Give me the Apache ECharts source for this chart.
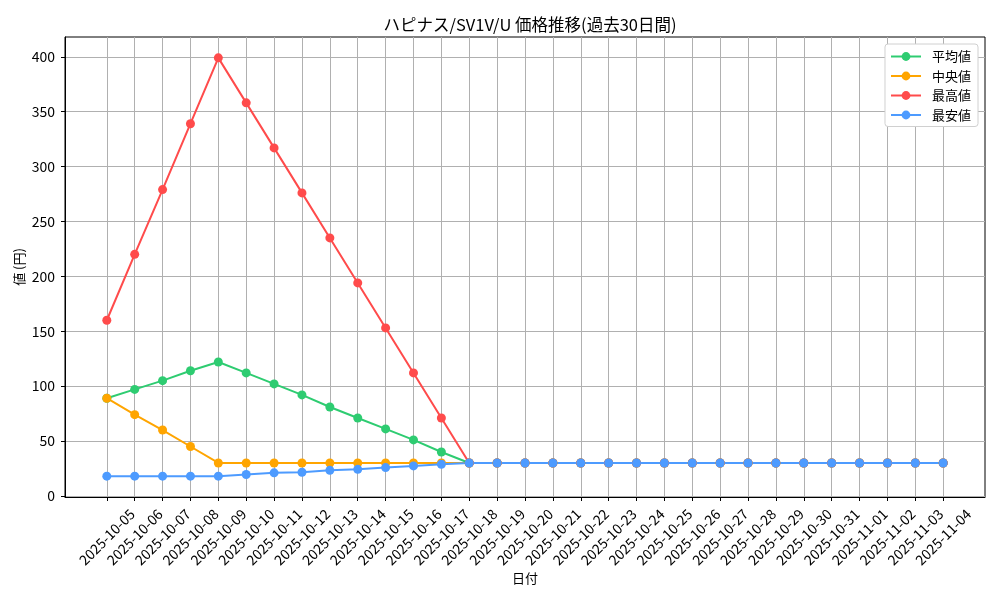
<!DOCTYPE html>
<html>
<head>
<meta charset="utf-8">
<script src="https://cdn.jsdelivr.net/npm/echarts@6/dist/echarts.min.js"></script>
<style>
  html, body { margin: 0; padding: 0; background: #fff; }
  #main { width: 1000px; height: 600px; }
</style>
</head>
<body>
<div id="main"></div>
<script>
const dates = [
  "2025-10-05", "2025-10-06", "2025-10-07", "2025-10-08", "2025-10-09",
  "2025-10-10", "2025-10-11", "2025-10-12", "2025-10-13", "2025-10-14",
  "2025-10-15", "2025-10-16", "2025-10-17", "2025-10-18", "2025-10-19",
  "2025-10-20", "2025-10-21", "2025-10-22", "2025-10-23", "2025-10-24",
  "2025-10-25", "2025-10-26", "2025-10-27", "2025-10-28", "2025-10-29",
  "2025-10-30", "2025-10-31", "2025-11-01", "2025-11-02", "2025-11-03",
  "2025-11-04"
]
const avgValues = [89, 97, 105, 114, 122, 112, 102, 92, 81, 71, 61, 51, 40, 30,
  30, 30, 30, 30, 30, 30, 30, 30, 30, 30, 30, 30, 30, 30, 30, 30, 30]
const medianValues = [89, 74, 60, 45, 30, 30, 30, 30, 30, 30, 30, 30, 30, 30,
  30, 30, 30, 30, 30, 30, 30, 30, 30, 30, 30, 30, 30, 30, 30, 30, 30]
const maxValues = [160, 220, 279, 339, 399, 358, 317, 276, 235, 194, 153, 112, 71, 30,
  30, 30, 30, 30, 30, 30, 30, 30, 30, 30, 30, 30, 30, 30, 30, 30, 30]
const minValues = [18, 18, 18, 18, 18, 19.5, 21, 21.5, 23.3, 24.2, 25.8, 27.3, 28.8, 30,
  30, 30, 30, 30, 30, 30, 30, 30, 30, 30, 30, 30, 30, 30, 30, 30, 30]
const yTicks = [0, 50, 100, 150, 200, 250, 300, 350, 400]

const font = '"Noto Sans CJK JP", sans-serif'
const xTicks = dates.map((d, i) => i)
const pairs = vals => vals.map((v, i) => [i, v])

const makeSeries = (name, vals, color) => ({
  name: name,
  type: "line",
  data: pairs(vals),
  symbol: "circle",
  symbolSize: 9,
  color: color,
  lineStyle: { width: 2, color: color },
  itemStyle: { color: color },
  emphasis: { disabled: true },
  animation: false,
})

const chart = echarts.init(document.getElementById("main"))
const option = {
  backgroundColor: "#fff",
  textStyle: { fontFamily: font },
  title: {
    text: "ハピナス/SV1V/U 価格推移(過去30日間)",
    left: 525,
    top: 11,
    textAlign: "center",
    textStyle: { fontFamily: font, fontSize: 16.5, fontWeight: "normal", color: "#000" },
  },
  legend: {
    orient: "vertical",
    right: 22,
    top: 44,
    padding: [6, 7, 5, 5],
    itemGap: 6.5,
    itemWidth: 30,
    itemHeight: 11,
    backgroundColor: "#fff",
    borderColor: "#d0d0d0",
    borderWidth: 1,
    borderRadius: 3,
    textStyle: { fontFamily: font, fontSize: 13, color: "#000", padding: [0, 0, 0, 6] },
  },
  grid: { left: 65, right: 15, top: 37, bottom: 103, show: true, borderColor: "#000", borderWidth: 1 },
  xAxis: {
    type: "value",
    min: -1.5,
    max: 31.5,
    name: "日付",
    nameLocation: "middle",
    nameGap: 75,
    nameMoveOverlap: false,
    nameTextStyle: { fontFamily: font, fontSize: 13, color: "#000" },
    axisLine: { show: true, onZero: false, lineStyle: { color: "#000" } },
    axisTick: { show: true, length: 4, customValues: xTicks, lineStyle: { color: "#000" } },
    axisLabel: {
      customValues: xTicks,
      rotate: 45,
      align: "center",
      verticalAlign: "middle",
      margin: 40,
      fontFamily: font,
      fontSize: 14,
      color: "#000",
      formatter: v => dates[Math.round(v)] || "",
    },
    splitLine: { show: true, lineStyle: { color: "#b0b0b0", width: 1 } },
  },
  yAxis: {
    type: "value",
    min: -1,
    max: 418,
    name: "値 (円)",
    nameLocation: "middle",
    nameGap: 39,
    nameMoveOverlap: false,
    nameRotate: 90,
    nameTextStyle: { fontFamily: font, fontSize: 13, color: "#000" },
    axisLine: { show: true, onZero: false, lineStyle: { color: "#000" } },
    axisTick: { show: true, length: 4, customValues: yTicks, lineStyle: { color: "#000" } },
    axisLabel: { customValues: yTicks, margin: 10, fontFamily: font, fontSize: 14, color: "#000" },
    splitLine: { show: true, lineStyle: { color: "#b0b0b0", width: 1 } },
  },
  series: [
    makeSeries("平均値", avgValues, "#2ecc71"),
    makeSeries("中央値", medianValues, "#ffa500"),
    makeSeries("最高値", maxValues, "#ff4b4b"),
    makeSeries("最安値", minValues, "#4d9bff"),
  ],
}
option && chart.setOption(option)
</script>
</body>
</html>
